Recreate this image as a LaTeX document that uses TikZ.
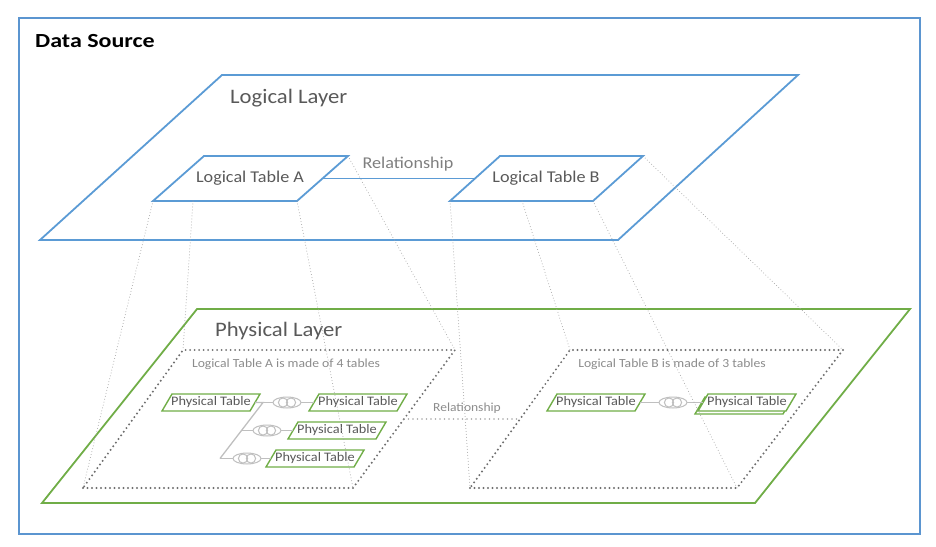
\documentclass[tikz,border=0pt]{standalone}
\usepackage{fontspec}
\usepackage{graphicx}
\setmainfont{Carlito}
\usetikzlibrary{calc,shapes.geometric}
\definecolor{outerblue}{HTML}{5B95D0}
\definecolor{logblue}{HTML}{5B9BD5}
\definecolor{phygreen}{HTML}{70AD47}
\definecolor{darktext}{HTML}{595959}
\definecolor{midtext}{HTML}{7F7F7F}
\definecolor{lighttext}{HTML}{8C8C8C}
\definecolor{connect}{HTML}{BFBFBF}
\definecolor{projgray}{HTML}{A6A6A6}
\definecolor{dotgray}{HTML}{6F6F6F}
\newcommand\wide[2]{\scalebox{#1}[1]{#2}}
\tikzset{
  outerbox/.style={draw=outerblue, line width=2.6pt},
  logshape/.style={draw=logblue, line width=1.8pt, line join=miter},
  physhape/.style={draw=phygreen, line width=1.8pt, line join=miter},
  ptab/.style={draw=phygreen, line width=1.4pt, line join=miter},
  projline/.style={draw=projgray, line width=1pt, line cap=round, dash pattern=on 0pt off 3pt},
  dotbox/.style={draw=dotgray, line width=2.2pt, line cap=round, dash pattern=on 0pt off 4.5pt},
  dotrel/.style={draw=projgray, line width=1.9pt, line cap=round, dash pattern=on 0pt off 4.5pt},
  conn/.style={draw=connect, line width=1.3pt},
  ringnode/.style={ellipse, draw=connect, line width=1pt, fill=white, minimum width=28pt, minimum height=11pt, inner sep=0pt},
  bigtext/.style={text=darktext, font=\fontsize{20.6}{23}\selectfont},
  tabtext/.style={text=darktext, font=\fontsize{16.5}{19}\selectfont},
  reltext/.style={text=midtext, font=\fontsize{16.5}{19}\selectfont},
  smalltext/.style={text=lighttext, font=\fontsize{12.4}{14}\selectfont},
  pttext/.style={text=darktext, font=\fontsize{13}{15}\selectfont, inner sep=0pt},
}
\newcommand\ptable[3]{%
  \draw[ptab] (#2,#3) -- ++(88,0) -- ++(10,-17) -- ++(-88,0) -- cycle;
  \node[pttext] (#1) at (#2+49,#3-8.5) {\wide{1.1}{Physical Table}};
  \coordinate (#1-l) at (#2+5,#3-8.5);
  \coordinate (#1-r) at (#2+93,#3-8.5);
}
\newcommand\joinring[3]{%
  \node[ringnode] (#1) at (#2,#3) {};
  \draw[draw=connect, line width=1pt] (#2-4,#3) circle (4.6pt);
  \draw[draw=connect, line width=1pt] (#2+4,#3) circle (4.6pt);
}
\begin{document}
\begin{tikzpicture}[x=1pt,y=-1pt]
\useasboundingbox (0,0) rectangle (936,546);
% outer frame
\draw[outerbox] (19,18) rectangle (920,534);
\node[anchor=base west, inner sep=0pt, font=\fontsize{20}{22}\selectfont\bfseries] (ds) at (35,47) {\wide{1.2}{Data Source}};

% logical layer
\draw[logshape] (40,240) -- (222,75) -- (798,75) -- (618,240) -- cycle;
\node[bigtext, anchor=base west, inner sep=0pt] (ll) at (230,103) {\wide{1.1}{Logical Layer}};

% logical tables
\coordinate (LAbl) at (153,201); \coordinate (LAbr) at (297,201);
\coordinate (LAtr) at (348,156); \coordinate (LAtl) at (204,156);
\coordinate (LAb2) at (193,201);
\coordinate (LBbl) at (450,201); \coordinate (LBbr) at (593,201);
\coordinate (LBtr) at (643,156); \coordinate (LBtl) at (500,156);
\coordinate (LBb2) at (522,201);
\draw[logshape] (LAbl) -- (LAbr) -- (LAtr) -- (LAtl) -- cycle;
\draw[logshape] (LBbl) -- (LBbr) -- (LBtr) -- (LBtl) -- cycle;
\node[tabtext] (lta) at (250,178) {\wide{1.1}{Logical Table A}};
\node[tabtext] (ltb) at (546,178) {\wide{1.1}{Logical Table B}};
\coordinate (LAr) at ($(LAbr)!0.5!(LAtr)$);
\coordinate (LBl) at ($(LBbl)!0.5!(LBtl)$);
\draw[draw=logblue, line width=1.8pt] (LAr) -- (LBl);
\node[reltext] (rel1) at (408,164) {\wide{1.1}{Relationship}};

% physical layer
\draw[physhape] (42,503) -- (197,309) -- (910,309) -- (755,503) -- cycle;
\node[bigtext, anchor=base west, inner sep=0pt] (pl) at (215,336) {\wide{1.1}{Physical Layer}};

% dotted groups
\coordinate (DAbl) at (83,488); \coordinate (DAbr) at (353,488);
\coordinate (DAtr) at (455,350); \coordinate (DAtl) at (183,350);
\coordinate (DBbl) at (470,488); \coordinate (DBbr) at (737,488);
\coordinate (DBtr) at (843,350); \coordinate (DBtl) at (570,350);
\draw[dotbox] (DAbl) -- (DAbr) -- (DAtr) -- (DAtl) -- cycle;
\draw[dotbox] (DBbl) -- (DBbr) -- (DBtr) -- (DBtl) -- cycle;
\node[smalltext] (ga) at (286,364) {\wide{1.1}{Logical Table A is made of 4 tables}};
\node[smalltext] (gb) at (672,364) {\wide{1.1}{Logical Table B is made of 3 tables}};
\coordinate (DAr) at ($(DAbr)!0.5!(DAtr)$);
\coordinate (DBl) at ($(DBbl)!0.5!(DBtl)$);
\draw[dotrel] (DAr) -- (DBl);
\node[smalltext, font=\fontsize{12.3}{14}\selectfont] (rel2) at (467,408) {\wide{1.1}{Relationship}};

% physical tables, group A
\ptable{PT1}{162}{411}
\ptable{PT2}{309}{411}
\ptable{PT3}{288}{439}
\ptable{PT4}{266}{467}
\coordinate (J1) at (263,402.5);
\coordinate (J2) at ($(J1)!0.5!(220,458.5)$);
\coordinate (J3) at (220,458.5);
\draw[conn] (PT1-r) -- (J1) -- (J3);
\draw[conn] (J1) -- (PT2-l);
\draw[conn] (J2) -- (PT3-l);
\draw[conn] (J3) -- (PT4-l);
\joinring{R1}{287}{402.5}
\joinring{R2}{267}{430.5}
\joinring{R3}{247}{458.5}

% physical tables, group B
\ptable{PT5}{547}{411}
\draw[ptab, fill=white] (695,414) -- ++(88,0) -- ++(10,-17) -- ++(-88,0) -- cycle;
\draw[ptab, fill=white] (698,411) -- ++(88,0) -- ++(10,-17) -- ++(-88,0) -- cycle;
\node[pttext] (PT6) at (747,402.5) {\wide{1.1}{Physical Table}};
\coordinate (PT6-l) at (703,402.5);
\draw[conn] (PT5-r) -- (PT6-l);
\joinring{R4}{673}{402.5}

% projection lines
\draw[projline] (LAbl) -- (DAbl);
\draw[projline] (LAb2) -- (DAtl);
\draw[projline] (LAbr) -- (DAbr);
\draw[projline] (LAtr) -- (DAtr);
\draw[projline] (LBbl) -- (DBbl);
\draw[projline] (LBb2) -- (DBtl);
\draw[projline] (LBbr) -- (DBbr);
\draw[projline] (LBtr) -- (DBtr);
\end{tikzpicture}
\end{document}
